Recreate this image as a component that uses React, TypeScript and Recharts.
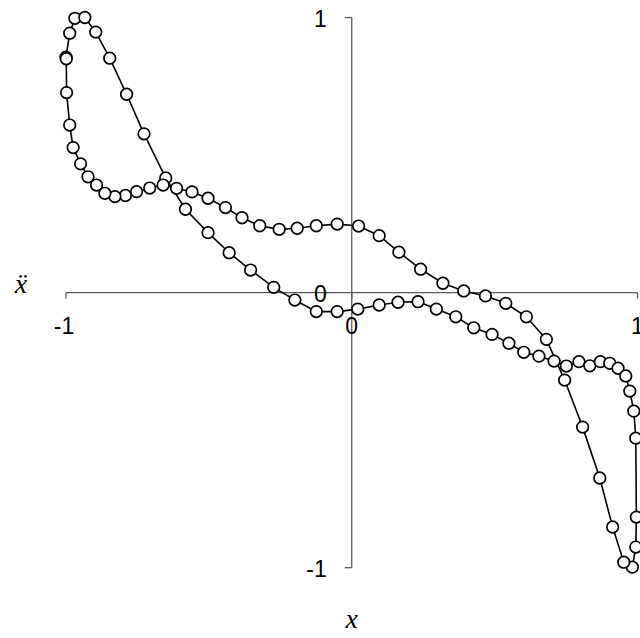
import { ScatterChart, Scatter, XAxis, YAxis, ReferenceLine, ReferenceDot } from 'recharts';

// displacement x, read along the loop (start top-left, down the steep side, back along the upper branch)
const xDisp = [
  -1.0, -0.987, -0.969, -0.934, -0.896, -0.847, -0.788, -0.727, -0.651, -0.582,
  -0.503, -0.429, -0.354, -0.273, -0.199, -0.124, -0.051, 0.021, 0.096, 0.162,
  0.232, 0.296, 0.364, 0.427, 0.491, 0.55, 0.602, 0.655, 0.708, 0.751,
  0.795, 0.833, 0.87, 0.903, 0.932, 0.959, 0.973, 0.987, 0.994, 0.996,
  0.994, 0.982, 0.952, 0.913, 0.868, 0.808, 0.745, 0.681, 0.611, 0.539,
  0.468, 0.392, 0.319, 0.241, 0.165, 0.096, 0.024, -0.051, -0.124, -0.191,
  -0.254, -0.322, -0.384, -0.442, -0.503, -0.559, -0.613, -0.66, -0.707, -0.753,
  -0.792, -0.829, -0.864, -0.893, -0.923, -0.949, -0.975, -0.987, -0.998, -0.999,
];

// acceleration ẍ at the same points
const xAcc = [
  0.856, 0.943, 0.997, 1.0, 0.947, 0.852, 0.721, 0.577, 0.417, 0.303,
  0.218, 0.145, 0.082, 0.019, -0.027, -0.069, -0.069, -0.06, -0.045, -0.035,
  -0.033, -0.06, -0.088, -0.128, -0.152, -0.184, -0.217, -0.231, -0.249, -0.267,
  -0.251, -0.266, -0.251, -0.257, -0.275, -0.303, -0.358, -0.431, -0.529, -0.816,
  -0.925, -0.998, -0.98, -0.852, -0.674, -0.489, -0.318, -0.17, -0.088, -0.039,
  -0.012, 0.006, 0.034, 0.085, 0.147, 0.207, 0.242, 0.249, 0.243, 0.234,
  0.23, 0.243, 0.272, 0.309, 0.343, 0.366, 0.379, 0.391, 0.38, 0.367,
  0.353, 0.349, 0.361, 0.391, 0.421, 0.468, 0.527, 0.609, 0.727, 0.85,
];

const xTicks = [-1, 0, 1];
const yTicks = [-1, 0, 1];

const points = xDisp.map((x, i) => ({ x, y: xAcc[i] }));

const AXIS = '#5a5a5a';
const sans = '"Liberation Sans", Arial, sans-serif';
const serif = '"Liberation Serif", "Times New Roman", serif';

function XTickMark({ cx, cy, label }: { cx: number; cy: number; label: string }) {
  return (
    <g>
      <line x1={cx} y1={cy} x2={cx} y2={cy + 6} stroke={AXIS} strokeWidth={1.3} />
      <text x={label === '-1' ? cx - 2 : cx} y={cy + 41.5} textAnchor="middle" fontFamily={sans} fontSize={23} fill="#000">
        {label}
      </text>
    </g>
  );
}

function YTickMark({ cx, cy, label, mark }: { cx: number; cy: number; label: string; mark: boolean }) {
  return (
    <g>
      {mark && <line x1={cx - 7} y1={cy} x2={cx} y2={cy} stroke={AXIS} strokeWidth={1.3} />}
      <text x={cx - 25} y={cy + 9} textAnchor="end" fontFamily={sans} fontSize={23} fill="#000">
        {label}
      </text>
    </g>
  );
}

export default function App() {
  return (
    <div style={{ position: 'absolute', left: 0, top: 0, width: 640, height: 638 }}>
      <ScatterChart width={640} height={638} margin={{ top: 17.5, right: 2.5, bottom: 70.3, left: 66 }}>
        <XAxis type="number" dataKey="x" domain={[-1, 1]} hide />
        <YAxis type="number" dataKey="y" domain={[-1, 1]} hide />
        <ReferenceLine y={0} stroke={AXIS} strokeWidth={1.3} />
        <ReferenceLine x={0} stroke={AXIS} strokeWidth={1.3} />
        {xTicks.map((v) => (
          <ReferenceDot
            key={'xt' + v}
            x={v}
            y={0}
            r={0}
            shape={(p: any) => <XTickMark cx={p.cx} cy={p.cy} label={String(v)} />}
          />
        ))}
        {yTicks.map((v) => (
          <ReferenceDot
            key={'yt' + v}
            x={0}
            y={v}
            r={0}
            shape={(p: any) => <YTickMark cx={p.cx} cy={p.cy} label={String(v)} mark={v !== 0} />}
          />
        ))}
        <ReferenceDot
          x={-1}
          y={0}
          r={0}
          shape={(p: any) => (
            <text x={p.cx - 45} y={p.cy} textAnchor="middle" fontFamily={serif} fontStyle="italic" fontSize={28} fill="#000">
              ẍ
            </text>
          )}
        />
        <ReferenceDot
          x={0}
          y={-1}
          r={0}
          shape={(p: any) => (
            <text x={p.cx} y={p.cy + 60} textAnchor="middle" fontFamily={serif} fontStyle="italic" fontSize={28} fill="#000">
              x
            </text>
          )}
        />
        <Scatter
          data={points}
          isAnimationActive={false}
          line={{ stroke: '#000', strokeWidth: 1.6 }}
          shape={(p: any) => <circle cx={p.cx} cy={p.cy} r={5.8} fill="#fff" stroke="#000" strokeWidth={1.7} />}
        />
      </ScatterChart>
    </div>
  );
}
